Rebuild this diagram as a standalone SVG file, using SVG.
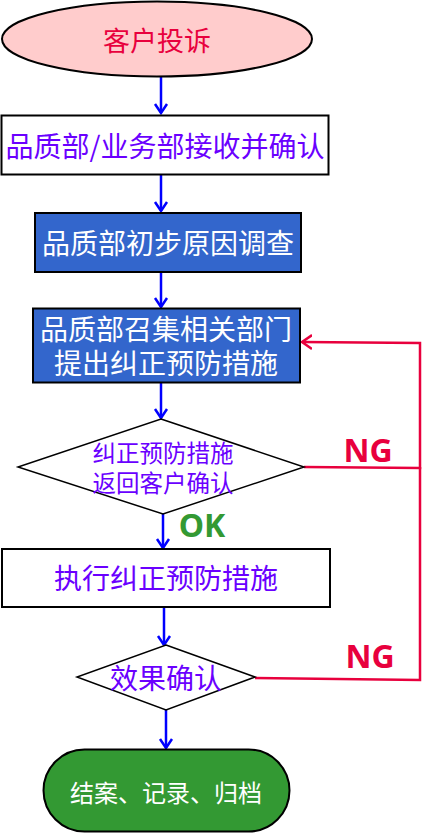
<svg xmlns="http://www.w3.org/2000/svg" width="423" height="834" viewBox="0 0 423 834">
<style>
.t{font-family:"Noto Sans CJK SC","Noto Sans",sans-serif;text-anchor:middle;dominant-baseline:central}
.p{fill:#6a00ff}
.w{fill:#ffffff}
.b{stroke:#000;stroke-width:2}
.lab{font-family:"Noto Sans","Noto Sans CJK SC",sans-serif;font-weight:bold;text-anchor:middle;dominant-baseline:central;font-size:32px}
.blue{stroke:#0000ff;stroke-width:2.5;fill:none}
.red{stroke:#e8003d;stroke-width:2.5;fill:none}
</style>
<defs>
<marker id="ab" markerUnits="userSpaceOnUse" markerWidth="20" markerHeight="20" viewBox="-10 -10 20 20" refX="0" refY="0" orient="auto">
<path d="M-9,-6 L0,0 L-9,6" fill="none" stroke="#0000ff" stroke-width="2.5"/>
</marker>
<marker id="ar" markerUnits="userSpaceOnUse" markerWidth="20" markerHeight="20" viewBox="-10 -10 20 20" refX="0" refY="0" orient="auto">
<path d="M-10,-7 L0,0 L-10,7" fill="none" stroke="#e8003d" stroke-width="2.5"/>
</marker>
</defs>
<g id="connectors">
<line class="blue" x1="161" y1="77" x2="161" y2="113" marker-end="url(#ab)"/>
<line class="blue" x1="161" y1="175" x2="161" y2="211" marker-end="url(#ab)"/>
<line class="blue" x1="161" y1="272" x2="161" y2="307" marker-end="url(#ab)"/>
<line class="blue" x1="161" y1="383" x2="161" y2="418" marker-end="url(#ab)"/>
<line class="blue" x1="163" y1="514" x2="163" y2="548" marker-end="url(#ab)"/>
<line class="blue" x1="164" y1="608" x2="164" y2="645" marker-end="url(#ab)"/>
<line class="blue" x1="166" y1="710" x2="166" y2="748" marker-end="url(#ab)"/>
<polyline class="red" points="304,467 420,468 420,343 302,342" marker-end="url(#ar)"/>
<polyline class="red" points="255,678 420,680 420,467"/>
<text class="lab" x="368" y="449" fill="#e8003d">NG</text>
<text class="lab" x="370" y="655" fill="#e8003d">NG</text>
<text class="lab" x="202" y="524" fill="#339933">OK</text>
</g>
<g id="n1">
<ellipse cx="157" cy="39" rx="155" ry="37.5" fill="#ffcccc" class="b" stroke-width="1.5"/>
<text class="t" x="157" y="39" font-size="27" fill="#e8003d">客户投诉</text>
</g>
<g id="n2">
<rect x="1.5" y="115.5" width="327" height="59" fill="#fff" class="b"/>
<text class="t p" x="165" y="145" font-size="28">品质部/业务部接收并确认</text>
</g>
<g id="n3">
<rect x="35" y="213" width="266" height="59" fill="#3366cc" class="b"/>
<text class="t w" x="168" y="242" font-size="28">品质部初步原因调查</text>
</g>
<g id="n4">
<rect x="33" y="308.5" width="267" height="74" fill="#3366cc" class="b"/>
<text class="t w" font-size="28"><tspan x="166" y="328">品质部召集相关部门</tspan><tspan x="166" y="362">提出纠正预防措施</tspan></text>
</g>
<g id="n5">
<polygon points="161,419 304,467 163,514 18,467" fill="#fff" stroke="#000" stroke-width="1.5"/>
<text class="t p" font-size="23.5"><tspan x="163" y="452">纠正预防措施</tspan><tspan x="163" y="482">返回客户确认</tspan></text>
</g>
<g id="n6">
<rect x="2" y="549" width="328" height="58" fill="#fff" class="b"/>
<text class="t p" x="166" y="577" font-size="28">执行纠正预防措施</text>
</g>
<g id="n7">
<polygon points="166,645 255,677 166,710 77,677" fill="#fff" stroke="#000" stroke-width="1.5"/>
<text class="t p" x="166" y="677" font-size="28">效果确认</text>
</g>
<g id="n8">
<rect x="43.5" y="749.5" width="246" height="82" rx="41" ry="41" fill="#339933" class="b"/>
<text class="t w" x="166" y="791" font-size="24">结案、记录、归档</text>
</g>
</svg>
